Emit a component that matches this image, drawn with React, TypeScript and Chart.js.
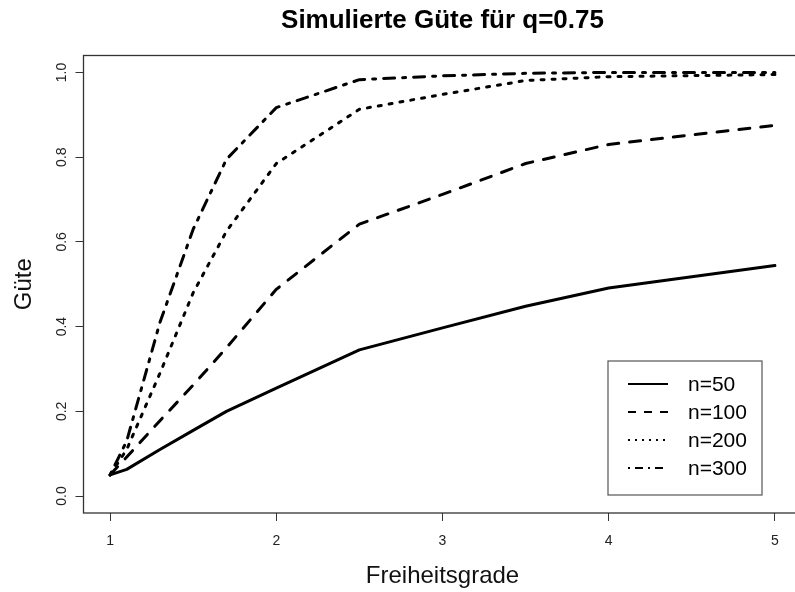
import React, { useEffect, useRef } from 'react';
import { Chart, registerables } from 'chart.js';

Chart.register(...registerables);

const degrees = [1, 1.1, 1.3, 1.5, 1.7, 2, 2.5, 3, 3.5, 4, 5];
const power50 = [0.05, 0.063, 0.11, 0.155, 0.2, 0.255, 0.345, 0.397, 0.448, 0.491, 0.544];
const power100 = [0.05, 0.092, 0.178, 0.262, 0.35, 0.488, 0.642, 0.712, 0.785, 0.83, 0.875];
const power200 = [0.05, 0.11, 0.29, 0.48, 0.625, 0.785, 0.913, 0.948, 0.981, 0.99, 0.995];
const power300 = [0.05, 0.13, 0.41, 0.63, 0.795, 0.917, 0.983, 0.992, 0.998, 1.0, 1.0];
const seriesLabels = ['n=50', 'n=100', 'n=200', 'n=300'];
const xTicks = [1, 2, 3, 4, 5];
const yTicks = [0, 0.2, 0.4, 0.6, 0.8, 1.0];
const titleText = 'Simulierte Güte für q=0.75';
const xTitle = 'Freiheitsgrade';
const yTitle = 'Güte';

const FONT = "'Liberation Sans', Arial, sans-serif";
const lineDashes = [[], [11, 11], [3, 8], [3, 8, 11, 8]];
const legendDashes = [[], [8, 8], [2, 5], [2, 5, 8, 5]];

const boxPlugin = {
  id: 'rbox',
  afterDraw(chart: any) {
    const { ctx, chartArea } = chart;
    const { left, top, right, bottom } = chartArea;
    ctx.save();
    // plot box
    ctx.strokeStyle = '#333';
    ctx.lineWidth = 1.3;
    ctx.strokeRect(left, top, right - left, bottom - top);

    // rotated y tick labels
    const yScale = chart.scales.y;
    ctx.fillStyle = '#222';
    ctx.font = `14px ${FONT}`;
    ctx.textAlign = 'center';
    ctx.textBaseline = 'middle';
    yScale.ticks.forEach((t: any) => {
      const py = yScale.getPixelForValue(t.value);
      ctx.save();
      ctx.translate(left - 21, py);
      ctx.rotate(-Math.PI / 2);
      ctx.fillText(Number(t.value).toFixed(1), 0, 0);
      ctx.restore();
    });

    // legend
    const bx = right - 193.5;
    const by = bottom - 152;
    const bw = 154;
    const bh = 134;
    ctx.fillStyle = '#fff';
    ctx.fillRect(bx, by, bw, bh);
    ctx.strokeStyle = '#555';
    ctx.lineWidth = 1.2;
    ctx.strokeRect(bx, by, bw, bh);
    ctx.font = `21px ${FONT}`;
    ctx.textAlign = 'left';
    ctx.textBaseline = 'middle';
    chart.data.datasets.forEach((ds: any, i: number) => {
      const ry = by + 23 + i * 28;
      ctx.strokeStyle = '#000';
      ctx.lineWidth = 2;
      ctx.setLineDash(legendDashes[i]);
      ctx.beginPath();
      ctx.moveTo(bx + 20, ry);
      ctx.lineTo(bx + 60, ry);
      ctx.stroke();
      ctx.setLineDash([]);
      ctx.fillStyle = '#000';
      ctx.fillText(ds.label, bx + 80, ry + 1);
    });
    ctx.restore();
  },
};

export default function App() {
  const ref = useRef<HTMLCanvasElement | null>(null);

  useEffect(() => {
    if (!ref.current) return;
    Chart.defaults.font.family = FONT;
    const seriesValues = [power50, power100, power200, power300];
    const chart = new Chart(ref.current, {
      type: 'line',
      data: {
        datasets: seriesValues.map((vals, i) => ({
          label: seriesLabels[i],
          data: degrees.map((d, j) => ({ x: d, y: vals[j] })),
          borderColor: '#000',
          backgroundColor: '#000',
          borderWidth: 3,
          borderDash: lineDashes[i],
          borderCapStyle: 'round',
          borderJoinStyle: 'round',
          pointRadius: 0,
          tension: 0,
          fill: false,
        })),
      },
      options: {
        responsive: false,
        animation: false,
        devicePixelRatio: 1,
        layout: { padding: { left: 0, right: 8.5, top: 0, bottom: 0 } },
        plugins: {
          legend: { display: false },
          tooltip: { enabled: false },
          title: {
            display: true,
            text: titleText,
            fullSize: false,
            color: '#000',
            font: { size: 26, weight: 'bold', family: FONT, lineHeight: 1.2 },
            padding: { top: 5.4, bottom: 18.9 },
          },
        },
        scales: {
          x: {
            type: 'linear',
            min: 0.84,
            max: 5.16,
            afterBuildTicks: (s: any) => {
              s.ticks = xTicks.map((v) => ({ value: v }));
            },
            afterFit: (s: any) => {
              s.height = 79;
            },
            ticks: {
              color: '#222',
              font: { size: 14, family: FONT },
              padding: 12,
              maxRotation: 0,
              autoSkip: false,
            },
            grid: { drawOnChartArea: false, drawTicks: true, tickLength: 8, color: '#333', lineWidth: 1 },
            border: { display: false },
            title: {
              display: true,
              text: xTitle,
              color: '#111',
              font: { size: 24, family: FONT, lineHeight: 1.2 },
              padding: { top: 0, bottom: 1.6 },
            },
          },
          y: {
            type: 'linear',
            min: -0.04,
            max: 1.04,
            afterBuildTicks: (s: any) => {
              s.ticks = yTicks.map((v) => ({ value: v }));
            },
            afterFit: (s: any) => {
              s.width = 83.5;
            },
            ticks: { display: false },
            grid: { drawOnChartArea: false, drawTicks: true, tickLength: 8, color: '#333', lineWidth: 1 },
            border: { display: false },
            title: {
              display: true,
              text: yTitle,
              color: '#111',
              font: { size: 24, family: FONT, lineHeight: 1.2 },
              padding: { top: 9.6, bottom: 0 },
            },
          },
        },
      },
      plugins: [boxPlugin],
    } as any);
    return () => chart.destroy();
  }, []);

  return (
    <div
      style={{
        position: 'fixed',
        left: 0,
        top: 0,
        width: 795,
        height: 592,
        overflow: 'hidden',
        background: '#fff',
      }}
    >
      <canvas ref={ref} width={810} height={592} style={{ display: 'block' }} />
    </div>
  );
}
